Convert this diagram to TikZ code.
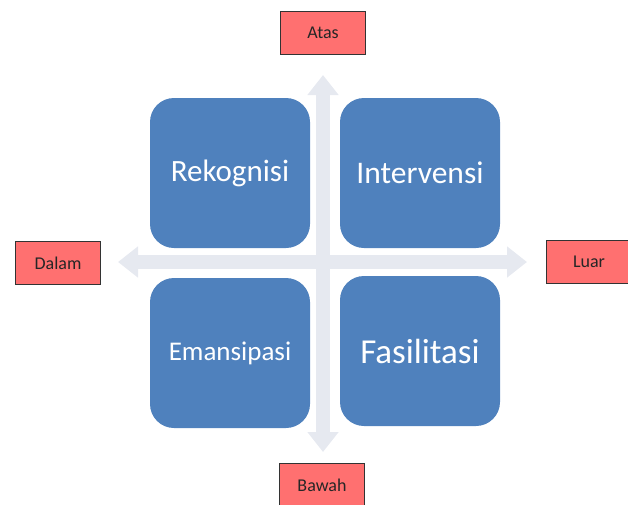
\documentclass[tikz,border=0pt]{standalone}
\usepackage{fontspec}
\setmainfont{Carlito}
\usetikzlibrary{positioning,arrows.meta}
\definecolor{quadblue}{RGB}{79,129,189}
\definecolor{tagred}{RGB}{255,112,112}
\definecolor{axisgray}{RGB}{230,233,240}

\tikzset{
  quad/.style={draw=none,fill=quadblue,rounded corners=24pt,minimum width=160pt,minimum height=150pt,text=white,align=center},
  tag/.style={draw=black!80,fill=tagred,minimum width=85pt,minimum height=43pt,font=\fontsize{18}{21}\selectfont,text=black!85},
  axis/.style={line width=14pt,draw=axisgray,{Triangle[width=30pt,length=20pt]}-{Triangle[width=30pt,length=20pt]}}
}

\begin{document}
\begin{tikzpicture}[x=1pt,y=-1pt]
    \useasboundingbox (0,0) rectangle (628,504);
    % axes of the quadrant
    \coordinate (top) at (323,75);
    \coordinate (bottom) at (323,452);
    \coordinate (left) at (118,262);
    \coordinate (right) at (527,262);
    \draw[axis] (top) -- (bottom);
    \draw[axis] (left) -- (right);
    % quadrants
    \node[quad,font=\fontsize{31}{34}\selectfont] (rek) at (230,173) {Rekognisi};
    \node[quad,font=\fontsize{31.5}{34}\selectfont] (int) at (420,173) {Intervensi};
    \node[quad,font=\fontsize{27}{30}\selectfont] (ema) at (230,353) {Emansipasi};
    \node[quad,font=\fontsize{35}{38}\selectfont] (fas) at (420,351) {Fasilitasi};
    % direction labels
    \node[tag] (atas) at (323,33) {Atas};
    \node[tag] (dalam) at (58,263) {Dalam};
    \node[tag] (luar) at (589,262) {Luar};
    \node[tag] (bawah) at (322,485) {Bawah};
\end{tikzpicture}
\end{document}
